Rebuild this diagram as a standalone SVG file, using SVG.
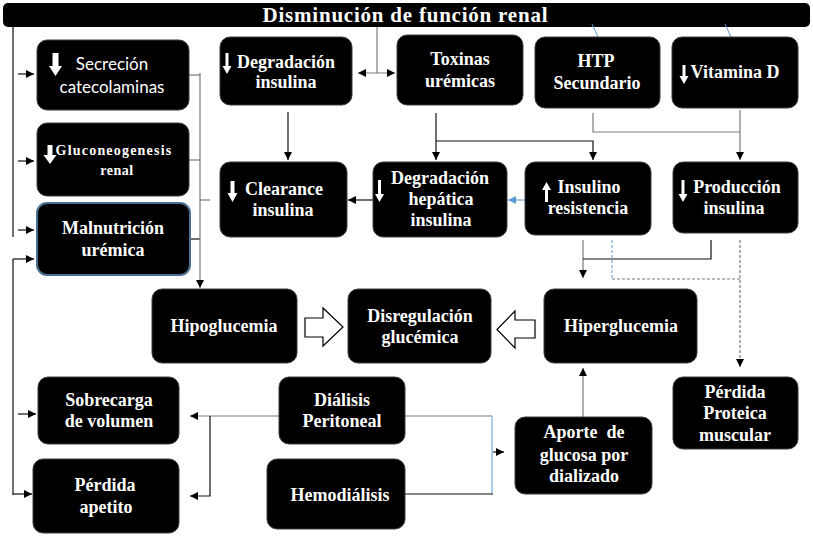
<svg xmlns="http://www.w3.org/2000/svg" width="813" height="541" viewBox="0 0 813 541">
<defs>
<style>
.node rect{fill:#000;stroke:#3c3c3c;stroke-width:1}
.t{font-family:"Liberation Serif","Times New Roman",serif;font-weight:bold;font-size:18px;fill:#fff;text-anchor:middle}
.s{font-family:Lato,"Liberation Sans",Arial,sans-serif;font-size:17px;fill:#fff;text-anchor:middle}
.wa{fill:#fff}
#connectors line,#connectors path{fill:none;stroke:#111;stroke-width:1.2}
#connectors .g{stroke:#7a7a7a}
#connectors .b{stroke:#5b9bd5;stroke-width:1}
#connectors .d{stroke-dasharray:3 2}
.block{fill:#fff;stroke:#000;stroke-width:1.2}
</style>
<marker id="ah" markerUnits="userSpaceOnUse" markerWidth="9" markerHeight="9" refX="8" refY="4" orient="auto-start-reverse" viewBox="0 0 9 8">
<path d="M0,0 L8,4 L0,8 z" fill="#000"/>
</marker>
<marker id="ahb" markerUnits="userSpaceOnUse" markerWidth="9" markerHeight="9" refX="8" refY="4" orient="auto" viewBox="0 0 9 8">
<path d="M0,0 L8,4 L0,8 z" fill="#5b9bd5"/>
</marker>
</defs>
<rect width="813" height="541" fill="#fff"/>

<g id="title">
<rect x="3" y="3" width="807" height="24" rx="5" fill="#000"/>
<text x="405" y="22" class="t" style="font-size:21px" textLength="285" lengthAdjust="spacing">Disminución de función renal</text>
</g>

<g id="connectors">
<line x1="13" y1="27" x2="13" y2="237"/>
<line x1="13" y1="259" x2="13" y2="495"/>
<line x1="18" y1="74" x2="34" y2="74" marker-end="url(#ah)"/>
<line x1="18" y1="161" x2="34" y2="161" marker-end="url(#ah)"/>
<line x1="18" y1="230" x2="34" y2="230" marker-end="url(#ah)"/>
<line x1="13" y1="259" x2="34" y2="259" marker-end="url(#ah)"/>
<line x1="18" y1="414" x2="36" y2="414" marker-end="url(#ah)"/>
<line x1="13" y1="494" x2="32" y2="494" marker-end="url(#ah)"/>

<line x1="377" y1="27" x2="377" y2="73" class="g"/>
<line x1="358" y1="73" x2="395" y2="73" class="g" marker-start="url(#ah)" marker-end="url(#ah)"/>
<line x1="592" y1="24" x2="598" y2="37" class="b"/>
<line x1="725" y1="24" x2="731" y2="37" class="b"/>

<line x1="288" y1="112" x2="288" y2="160" marker-end="url(#ah)"/>
<line x1="436" y1="113" x2="436" y2="160" marker-end="url(#ah)"/>
<path d="M436,141 H593 V160" marker-end="url(#ah)"/>
<path d="M593,113 V132 H740" class="g"/>
<line x1="740" y1="110" x2="740" y2="160" class="g" marker-end="url(#ah)"/>

<line x1="525" y1="200" x2="508" y2="200" class="b" marker-end="url(#ahb)"/>
<line x1="373" y1="200" x2="348" y2="200" marker-end="url(#ah)"/>

<line x1="189" y1="75" x2="200" y2="75" class="g"/>
<line x1="189" y1="160" x2="200" y2="160" class="g"/>
<line x1="190" y1="239" x2="200" y2="239"/>
<line x1="200" y1="200" x2="210" y2="200" class="g"/>
<line x1="200" y1="73" x2="200" y2="288" class="g" marker-end="url(#ah)"/>

<line x1="583" y1="240" x2="583" y2="278" class="g" marker-end="url(#ah)"/>
<path d="M711,240 V259 H583"/>
<path d="M612,240 V279" class="b d"/>
<path d="M612,279 H740" class="g d"/>
<line x1="740" y1="240" x2="740" y2="367" class="g d" marker-end="url(#ah)"/>

<line x1="583" y1="417" x2="583" y2="368" class="g" marker-end="url(#ah)"/>

<line x1="405" y1="416" x2="492" y2="416" class="g"/>
<line x1="492" y1="416" x2="492" y2="494" class="b"/>
<line x1="405" y1="494" x2="493" y2="494"/>
<line x1="493" y1="452" x2="504" y2="452" marker-end="url(#ah)"/>

<line x1="279" y1="416" x2="190" y2="416" class="g" marker-end="url(#ah)"/>
<path d="M210,416 V496 H190" marker-end="url(#ah)"/>
</g>

<g id="n-secrecion" class="node">
<rect x="37" y="40" width="152" height="70" rx="10"/>
<path class="wa" d="M52.5,53 H58.5 V66 H62 L55.5,76 L49,66 H52.5 Z"/>
<text class="s" x="112" y="70">Secreción</text>
<text class="s" x="112" y="93">catecolaminas</text>
</g>

<g id="n-gluconeogenesis" class="node">
<rect x="37" y="123" width="152" height="73" rx="10"/>
<path class="wa" d="M47.5,145 H52.5 V155 H56.5 L50,164 L43.5,155 H47.5 Z"/>
<text class="t" style="font-size:14px;letter-spacing:1.2px" x="114" y="155">Gluconeogenesis</text>
<text class="t" style="font-size:14px;letter-spacing:0.5px" x="117" y="175">renal</text>
</g>

<g id="n-malnutricion" class="node">
<rect x="37" y="203" width="153" height="72" rx="10" style="stroke:#4a6f90;stroke-width:2"/>
<text class="t" x="113" y="234">Malnutrición</text>
<text class="t" x="113" y="256">urémica</text>
</g>

<g id="n-degradacion" class="node">
<rect x="220" y="37" width="132" height="68" rx="10"/>
<path class="wa" d="M225.5,53 H228.5 V66 H231.5 L227,74 L222.5,66 H225.5 Z"/>
<text class="t" x="286" y="68">Degradación</text>
<text class="t" x="286" y="88">insulina</text>
</g>

<g id="n-toxinas" class="node">
<rect x="397" y="35" width="126" height="70" rx="10"/>
<text class="t" x="460" y="65">Toxinas</text>
<text class="t" x="460" y="87">urémicas</text>
</g>

<g id="n-htp" class="node">
<rect x="535" y="37" width="125" height="71" rx="10"/>
<text class="t" x="596" y="67">HTP</text>
<text class="t" x="597" y="89">Secundario</text>
</g>

<g id="n-vitamina" class="node">
<rect x="672" y="37" width="126" height="71" rx="10"/>
<path class="wa" d="M682.5,65 H685.5 V76 H688.5 L684,84 L679.5,76 H682.5 Z"/>
<text class="t" x="735" y="78">Vitamina D</text>
</g>

<g id="n-clearance" class="node">
<rect x="220" y="162" width="127" height="75" rx="10"/>
<path class="wa" d="M230.5,181 H234.5 V193 H237.5 L232.5,202 L227.5,193 H230.5 Z"/>
<text class="t" x="284" y="195">Clearance</text>
<text class="t" x="283" y="216">insulina</text>
</g>

<g id="n-hepatica" class="node">
<rect x="373" y="162" width="134" height="75" rx="10"/>
<path class="wa" d="M378,180 H381 V194 H384 L379.5,202 L375,194 H378 Z"/>
<text class="t" x="440" y="184">Degradación</text>
<text class="t" x="441" y="205">hepática</text>
<text class="t" x="441" y="226">insulina</text>
</g>

<g id="n-insulino" class="node">
<rect x="525" y="162" width="126" height="73" rx="10"/>
<path class="wa" d="M545,202 H548 V190 H551 L546.5,182 L542,190 H545 Z"/>
<text class="t" x="589" y="193">Insulino</text>
<text class="t" x="588" y="214">resistencia</text>
</g>

<g id="n-produccion" class="node">
<rect x="673" y="162" width="125" height="71" rx="10"/>
<path class="wa" d="M681.5,180 H684.5 V194 H687.5 L683,202 L678.5,194 H681.5 Z"/>
<text class="t" x="737" y="193">Producción</text>
<text class="t" x="734" y="214">insulina</text>
</g>

<g id="n-hipoglucemia" class="node">
<rect x="152" y="289" width="145" height="74" rx="10"/>
<text class="t" x="224" y="332">Hipoglucemia</text>
</g>

<g id="n-disregulacion" class="node">
<rect x="348" y="289" width="143" height="74" rx="10"/>
<text class="t" x="420" y="322">Disregulación</text>
<text class="t" x="420" y="343">glucémica</text>
</g>

<g id="n-hiperglucemia" class="node">
<rect x="544" y="289" width="153" height="74" rx="10"/>
<text class="t" x="621" y="332">Hiperglucemia</text>
</g>

<g id="block-arrows">
<path class="block" d="M305,318 H323 V308 L343,327 L323,346 V337 H305 Z"/>
<path class="block" d="M535,320 H515 V311 L497,329.5 L515,348 V338 H535 Z"/>
</g>

<g id="n-sobrecarga" class="node">
<rect x="38" y="377" width="141" height="67" rx="10"/>
<text class="t" x="109" y="406">Sobrecarga</text>
<text class="t" x="109" y="427">de volumen</text>
</g>

<g id="n-apetito" class="node">
<rect x="33" y="459" width="146" height="74" rx="10"/>
<text class="t" x="105" y="491">Pérdida</text>
<text class="t" x="106" y="513">apetito</text>
</g>

<g id="n-peritoneal" class="node">
<rect x="279" y="377" width="126" height="67" rx="10"/>
<text class="t" x="342" y="406">Diálisis</text>
<text class="t" x="342" y="427">Peritoneal</text>
</g>

<g id="n-hemodialisis" class="node">
<rect x="267" y="459" width="138" height="70" rx="10"/>
<text class="t" x="340" y="501">Hemodiálisis</text>
</g>

<g id="n-aporte" class="node">
<rect x="515" y="417" width="137" height="77" rx="10"/>
<text class="t" x="584" y="438" xml:space="preserve">Aporte  de</text>
<text class="t" x="584" y="461">glucosa por</text>
<text class="t" x="584" y="482">dializado</text>
</g>

<g id="n-proteica" class="node">
<rect x="673" y="377" width="125" height="72" rx="10"/>
<text class="t" x="735" y="398">Pérdida</text>
<text class="t" x="735" y="419">Proteica</text>
<text class="t" x="735" y="441">muscular</text>
</g>
</svg>
